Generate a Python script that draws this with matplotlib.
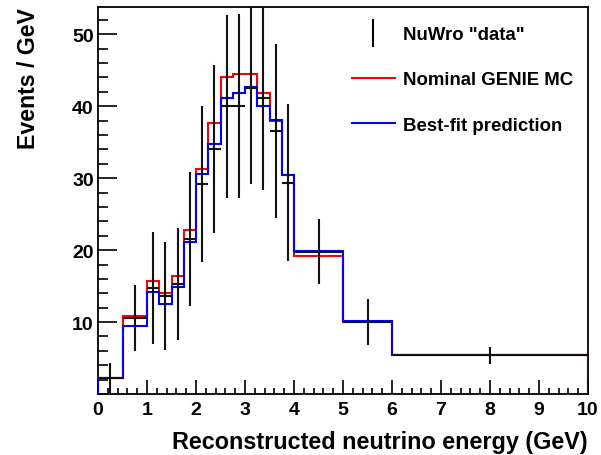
import numpy as np
import matplotlib
matplotlib.use("Agg")
import matplotlib.pyplot as plt
from matplotlib.lines import Line2D
from matplotlib.ticker import MultipleLocator

plt.rcParams["font.family"] = ["Liberation Sans", "DejaVu Sans"]
plt.rcParams["font.weight"] = "bold"

# Reconstructed-energy binning (GeV)
bin_edges = [0.0, 0.5, 1.0, 1.25, 1.5, 1.75, 2.0, 2.25, 2.5, 2.75,
             3.0, 3.25, 3.5, 3.75, 4.0, 5.0, 6.0, 10.0]

# Nominal GENIE MC (events / GeV)
genie_nominal = [2.2, 10.8, 15.7, 14.0, 16.4, 22.8, 31.3, 37.7, 44.0,
                 44.5, 44.5, 41.9, 37.9, 30.4, 19.2, 10.0, 5.4]

# Best-fit prediction (events / GeV)
best_fit = [2.2, 9.5, 14.2, 12.5, 14.9, 21.2, 30.6, 34.8, 41.2,
            41.8, 42.7, 40.0, 38.1, 30.4, 19.9, 10.2, 5.4]

# NuWro fake data with statistical errors
nuwro_data = [2.2, 10.6, 14.7, 13.6, 15.3, 21.5, 29.2, 34.1, 40.0,
              40.0, 42.5, 41.1, 36.6, 29.4, 19.8, 10.0, 5.4]
nuwro_err = [2.1, 4.6, 7.8, 7.5, 7.8, 9.3, 10.9, 11.7, 12.7,
             12.8, 13.3, 12.7, 12.1, 10.9, 4.5, 3.2, 1.2]

legend_labels = ['NuWro "data"', "Nominal GENIE MC", "Best-fit prediction"]

edges = np.array(bin_edges)
centers = 0.5 * (edges[:-1] + edges[1:])
half_widths = 0.5 * np.diff(edges)

W, H = 601, 456
fig = plt.figure(figsize=(W / 100, H / 100), dpi=100)
ax = fig.add_axes([98 / W, 1 - 395 / H, 490 / W, 387 / H])

ax.stairs(genie_nominal, edges, baseline=0, color="#ff0000", lw=1.5, zorder=2)
ax.stairs(best_fit, edges, baseline=0, color="#0000ff", lw=1.5, zorder=3)
ax.errorbar(centers, nuwro_data, yerr=nuwro_err, xerr=half_widths,
            fmt="none", ecolor="#111111", elinewidth=1.5, capsize=0, zorder=4)

ax.set_xlim(0, 10)
ax.set_ylim(0, 53.8)

ax.xaxis.set_major_locator(MultipleLocator(1))
ax.xaxis.set_minor_locator(MultipleLocator(0.2))
ax.yaxis.set_major_locator(MultipleLocator(10))
ax.yaxis.set_minor_locator(MultipleLocator(2))
ax.set_yticks([10, 20, 30, 40, 50])

ax.tick_params(which="both", direction="in", top=False, right=False,
               labelsize=14, width=1.2, colors="black")
ax.tick_params(axis="x", which="major", length=10, pad=5)
ax.tick_params(axis="x", which="minor", length=4.5)
ax.tick_params(axis="y", which="major", length=14, pad=3)
ax.tick_params(axis="y", which="minor", length=7)
for lab in ax.get_xticklabels() + ax.get_yticklabels():
    lab.set_fontweight("bold")

for sp in ax.spines.values():
    sp.set_linewidth(1.3)

ax.set_xlabel("Reconstructed neutrino energy (GeV)", loc="right",
              fontsize=16.8, fontweight="bold", labelpad=9)
ax.set_ylabel("Events / GeV", loc="top", fontsize=16.7,
              fontweight="bold", labelpad=23)

handles = [
    Line2D([], [], color="black", lw=0, marker="|", markersize=19.5,
           markeredgewidth=1.5),
    Line2D([], [], color="#ff0000", lw=1.5),
    Line2D([], [], color="#0000ff", lw=1.5),
]
fig.legend(handles, legend_labels, loc="upper left",
           bbox_to_anchor=(352 / W, 1 - 27 / H), frameon=False,
           borderpad=0, borderaxespad=0, handlelength=2.3,
           handletextpad=0.43, labelspacing=1.52,
           prop={"size": 13.4, "weight": "bold"})

fig.savefig("out.png", dpi=100)
